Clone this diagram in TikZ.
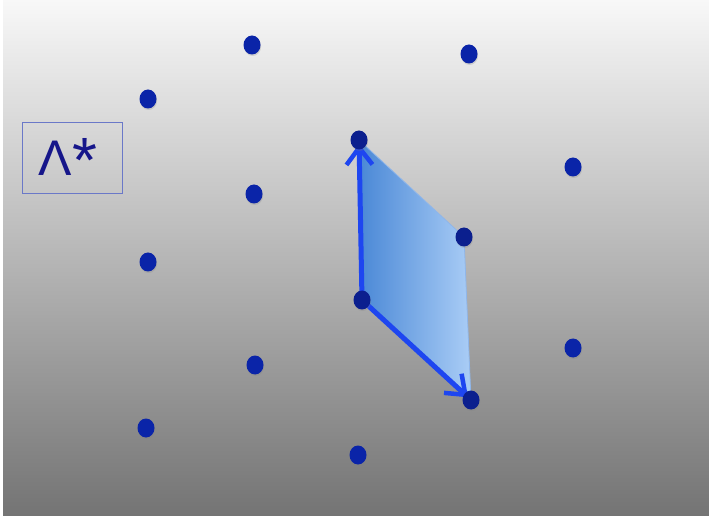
\documentclass[tikz,border=0pt]{standalone}
\usepackage{fontspec}
\newfontfamily\labelfont{Liberation Sans}
\usetikzlibrary{arrows.meta,shapes.geometric,shadows}
\definecolor{Dot}{HTML}{0A24A8}
\definecolor{DarkDot}{HTML}{0B1F8E}
\definecolor{Vec}{HTML}{1E46F0}
\definecolor{CellL}{HTML}{4A88D6}
\definecolor{CellR}{HTML}{AACDF6}
\definecolor{CellEdge}{HTML}{8FB6EA}
\definecolor{BoxEdge}{HTML}{6A78C8}
\definecolor{Ink}{HTML}{16168A}
\definecolor{BgTop}{HTML}{F8F8F8}
\definecolor{BgBot}{HTML}{747474}

\begin{document}
\begin{tikzpicture}[x=1pt, y=-1pt, every node/.style={inner sep=0pt},
  pt/.style={ellipse, fill=Dot, minimum width=17pt, minimum height=19pt,
    drop shadow={opacity=0.25, shadow xshift=0.6pt, shadow yshift=-1.5pt}},
  vec/.style={-{Straight Barb[length=17pt, width=26pt, line width=4.5pt]}, line width=5pt, color=Vec, shorten >=4pt}]
\useasboundingbox (0,0) rectangle (709,518);
\fill[white] (0,0) rectangle (709,518);
\shade[top color=BgTop, bottom color=BgBot] (3,0) rectangle (709,515);

% unit cell corners
\coordinate (o) at (362,300);
\coordinate (a) at (359,140);
\coordinate (b) at (471,400);
\coordinate (ab) at (464,237);

\draw[CellEdge, line width=0.8pt, left color=CellL, right color=CellR] (o) -- (a) -- (ab) -- (b) -- cycle;
\draw[vec] (o) -- (a);
\draw[vec] (o) -- (b);

% lattice points
\node[pt] (p1) at (252,45) {};
\node[pt] (p2) at (469,54) {};
\node[pt] (p3) at (148,99) {};
\node[pt] (p4) at (573,167) {};
\node[pt] (p5) at (254,194) {};
\node[pt] (p6) at (148,262) {};
\node[pt] (p7) at (573,348) {};
\node[pt] (p8) at (255,365) {};
\node[pt] (p9) at (146,428) {};
\node[pt] (p10) at (358,455) {};
\node[pt, fill=DarkDot] (na) at (a) {};
\node[pt, fill=DarkDot] (nab) at (ab) {};
\node[pt, fill=DarkDot] (no) at (o) {};
\node[pt, fill=DarkDot] (nb) at (b) {};

\node[draw=BoxEdge, line width=0.8pt, minimum width=100pt, minimum height=71pt] (key) at (72,157.5) {};
\node[text=Ink, font=\labelfont\fontsize{50}{50}\selectfont] (lbl) at (68,160) {Λ\raisebox{-7pt}{\fontsize{64}{64}\selectfont *}};
\end{tikzpicture}
\end{document}
